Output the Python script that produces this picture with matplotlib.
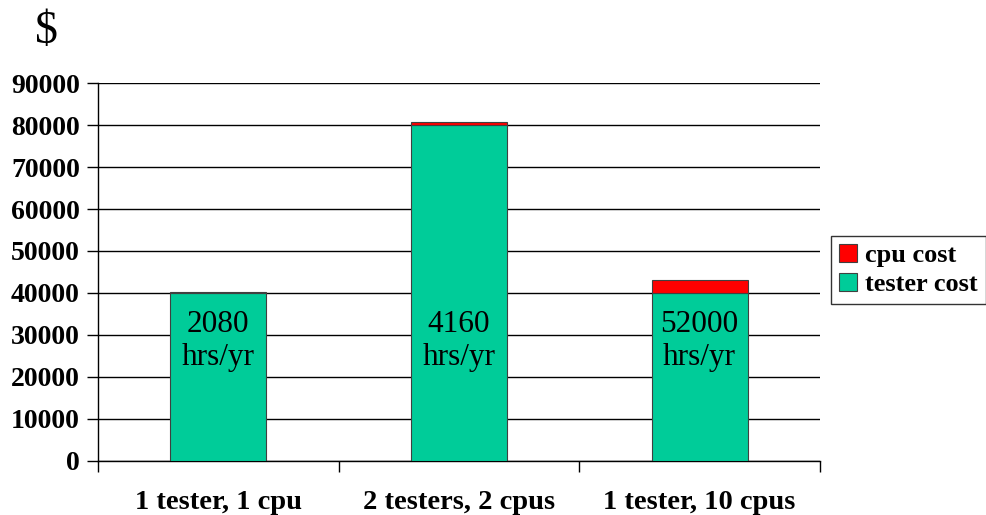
import matplotlib
matplotlib.use("Agg")
import matplotlib.pyplot as plt
import numpy as np

categories = ["1 tester, 1 cpu", "2 testers, 2 cpus", "1 tester, 10 cpus"]
tester_cost = [40000, 80000, 40000]
cpu_cost = [300, 600, 3000]
hours = ["2080", "4160", "52000"]
yticks = [0, 10000, 20000, 30000, 40000, 50000, 60000, 70000, 80000, 90000]

serif = ["Liberation Serif", "DejaVu Serif"]
green = "#00CC99"
red = "#FF0000"

fig = plt.figure(figsize=(9.86, 5.15), dpi=100)
ax = fig.add_axes([0.0994, 0.1049, 0.7322, 0.7339])

x = np.arange(len(categories))
w = 0.4
ax.bar(x, tester_cost, w, color=green, edgecolor="#404040", linewidth=0.8,
       label="tester cost", zorder=3)
ax.bar(x, cpu_cost, w, bottom=tester_cost, color=red, edgecolor="#404040",
       linewidth=0.8, label="cpu cost", zorder=3)

for xi, h in zip(x, hours):
    ax.text(xi, 28500, f"{h}\nhrs/yr", ha="center", va="center",
            fontsize=22.5, family=serif, linespacing=1.2, zorder=4)

ax.set_xlim(-0.5, 2.5)
ax.set_ylim(0, 90000)
ax.set_yticks(yticks)
ax.set_yticklabels([str(v) for v in yticks], family=serif, fontsize=20,
                   fontweight="bold")
ax.yaxis.grid(True, color="black", linewidth=1.0, zorder=0)
ax.tick_params(axis="y", length=8, width=1, pad=5)

ax.set_xticks(x)
ax.set_xticklabels(categories, family=serif, fontsize=20.5, fontweight="bold")
ax.tick_params(axis="x", which="major", length=0, pad=21)
ax.set_xticks([-0.5, 0.5, 1.5, 2.5], minor=True)
ax.tick_params(axis="x", which="minor", length=8, width=1)

for s in ["top", "right"]:
    ax.spines[s].set_visible(False)
for s in ["left", "bottom"]:
    ax.spines[s].set_linewidth(1.0)

handles, labels = ax.get_legend_handles_labels()
leg = fig.legend(handles[::-1], labels[::-1], loc="upper left",
                 bbox_to_anchor=(831 / 986, 1 - 236 / 515),
                 prop={"family": serif, "size": 19, "weight": "bold"},
                 frameon=True, fancybox=False, edgecolor="black",
                 handlelength=0.7, handleheight=0.7, handletextpad=0.3,
                 borderpad=0.3, labelspacing=0.2, borderaxespad=0)
leg.get_frame().set_linewidth(1.0)

fig.text(46 / 986, 1 - 32 / 515, "$", family=serif, fontsize=33,
         ha="center", va="center")

fig.savefig("out.png", dpi=100)
